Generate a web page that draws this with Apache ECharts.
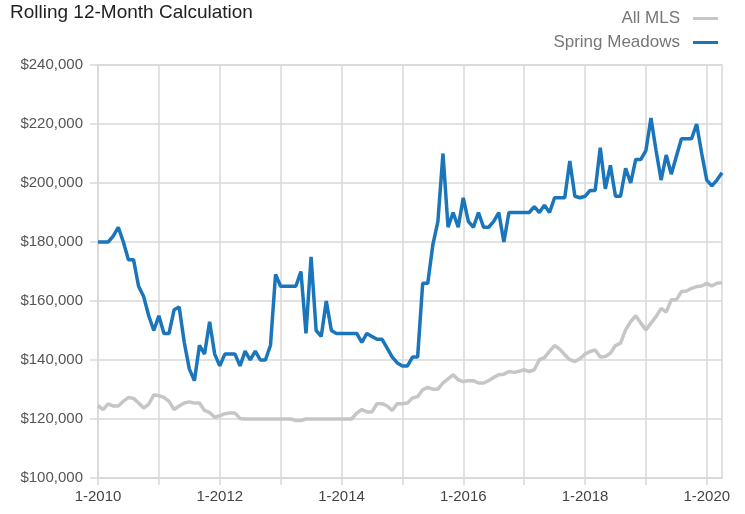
<!DOCTYPE html>
<html>
<head>
<meta charset="utf-8">
<script src="https://cdn.jsdelivr.net/npm/echarts@6/dist/echarts.min.js"></script>
<style>
  html, body { margin: 0; padding: 0; background: #fff; }
  #main { width: 745px; height: 514px; }
</style>
</head>
<body>
<div id="main"></div>
<script>
// monthly points, 1-2010 .. 4-2020
const years = [2010, 2011, 2012, 2013, 2014, 2015, 2016, 2017, 2018, 2019, 2020];
const monthsInLastYear = 4;
const yTicks = [100000, 120000, 140000, 160000, 180000, 200000, 220000, 240000];

// values in $1000s
const springMeadows = [
  180, 180, 180, 182, 185, 180, 174, 174, 165, 161.5, 155, 150,
  155, 149, 149, 157, 158, 146, 137, 133, 145, 142, 153, 142,
  138, 142, 142, 142, 138, 143, 140, 143, 140, 140, 145, 169,
  165, 165, 165, 165, 170, 149, 175, 150, 148, 160, 150, 149,
  149, 149, 149, 149, 146, 149, 148, 147, 147, 144, 141, 139,
  138, 138, 141, 141, 166, 166, 179, 187, 210, 185, 190, 185,
  195, 187, 185, 190, 185, 185, 187, 190, 180, 190, 190, 190,
  190, 190, 192, 190, 192.5, 190, 195, 195, 195, 207.5, 195.5, 195,
  195.5, 197.5, 197.5, 212, 198, 206, 195.5, 195.5, 205, 200, 208, 208,
  211, 222, 211, 201, 209.5, 203, 209, 215, 215, 215, 220, 210,
  201, 199, 201, 203.5
];

const allMLS = [
  124.5, 123.2, 125.1, 124.4, 124.4, 126, 127.3, 127, 125.4, 123.7, 125, 128.2,
  127.9, 127.3, 126, 123.2, 124.4, 125.4, 125.8, 125.4, 125.4, 122.9, 122.2, 120.6,
  121.1, 121.8, 122, 122, 120.2, 120, 120, 120, 120, 120, 120, 120,
  120, 120, 120, 119.5, 119.5, 120, 120, 120, 120, 120, 120, 120,
  120, 120, 120, 122, 123.2, 122.4, 122.4, 125.2, 125.2, 124.4, 122.9, 125.2,
  125.2, 125.4, 127.1, 127.6, 129.9, 130.7, 130.1, 130.1, 132.2, 133.6, 135, 133.3,
  132.7, 133, 133, 132.2, 132.2, 133, 134.1, 135, 135.2, 136.1, 135.8, 136.2,
  136.7, 136.1, 136.7, 140.1, 140.8, 142.9, 144.9, 143.7, 141.8, 140.1, 139.5, 140.4,
  142, 142.9, 143.4, 141, 141.2, 142.3, 144.9, 145.7, 150.2, 153, 155, 152.5,
  150.2, 152.5, 154.7, 157.5, 156.2, 160.4, 160.4, 163.2, 163.4, 164.3, 164.9, 165.1,
  166, 165.1, 166, 166.2
];

const months = [];
years.forEach(function (y, yi) {
  const n = yi === years.length - 1 ? monthsInLastYear : 12;
  for (let m = 1; m <= n; m++) months.push(m + '-' + y);
});

const gridColor = '#d9d9d9';
const font = '"Liberation Sans Narrow", "Liberation Sans", Arial, sans-serif';

const chart = echarts.init(document.getElementById('main'));
chart.setOption({
  animation: false,
  title: {
    text: 'Rolling 12-Month Calculation',
    left: 5,
    top: -2,
    textStyle: { fontFamily: font, fontSize: 19, fontWeight: 'normal', color: '#222' }
  },
  legend: {
    orient: 'vertical',
    right: 22,
    top: 5,
    align: 'right',
    itemWidth: 25,
    itemHeight: 3,
    itemGap: 7,
    icon: 'rect',
    textStyle: { fontFamily: font, fontSize: 17, color: '#777', padding: [0, 8, 0, 0] },
    data: ['All MLS', 'Spring Meadows']
  },
  grid: {
    left: 98,
    right: 23,
    top: 65,
    bottom: 36,
    show: true,
    borderColor: gridColor,
    borderWidth: 1.5
  },
  xAxis: {
    type: 'category',
    boundaryGap: false,
    data: months,
    axisLine: { lineStyle: { color: gridColor, width: 1.5 } },
    axisTick: {
      show: true,
      length: 7,
      interval: function (i) { return i % 12 === 0; },
      lineStyle: { color: gridColor, width: 1.5 }
    },
    splitLine: {
      show: true,
      interval: function (i) { return i % 12 === 0; },
      lineStyle: { color: gridColor, width: 1.5 }
    },
    axisLabel: {
      interval: function (i) { return i % 24 === 0; },
      fontFamily: font,
      fontSize: 15,
      color: '#444',
      margin: 11
    }
  },
  yAxis: {
    type: 'value',
    min: yTicks[0],
    max: yTicks[yTicks.length - 1],
    interval: 20000,
    axisLine: { show: false },
    axisTick: { show: true, length: 8, lineStyle: { color: gridColor, width: 1.5 } },
    splitLine: { lineStyle: { color: gridColor, width: 1.5 } },
    axisLabel: {
      fontFamily: font,
      fontSize: 15,
      color: '#555',
      margin: 15,
      formatter: function (v) { return '$' + v.toLocaleString('en-US'); }
    }
  },
  series: [
    {
      name: 'All MLS',
      type: 'line',
      showSymbol: false,
      color: '#c6c6c6',
      lineStyle: { width: 3.5, color: '#c6c6c6' },
      data: allMLS.map(function (v) { return v * 1000; })
    },
    {
      name: 'Spring Meadows',
      type: 'line',
      showSymbol: false,
      color: '#1b75bb',
      lineStyle: { width: 3.5, color: '#1b75bb' },
      data: springMeadows.map(function (v) { return v * 1000; })
    }
  ]
});
</script>
</body>
</html>
